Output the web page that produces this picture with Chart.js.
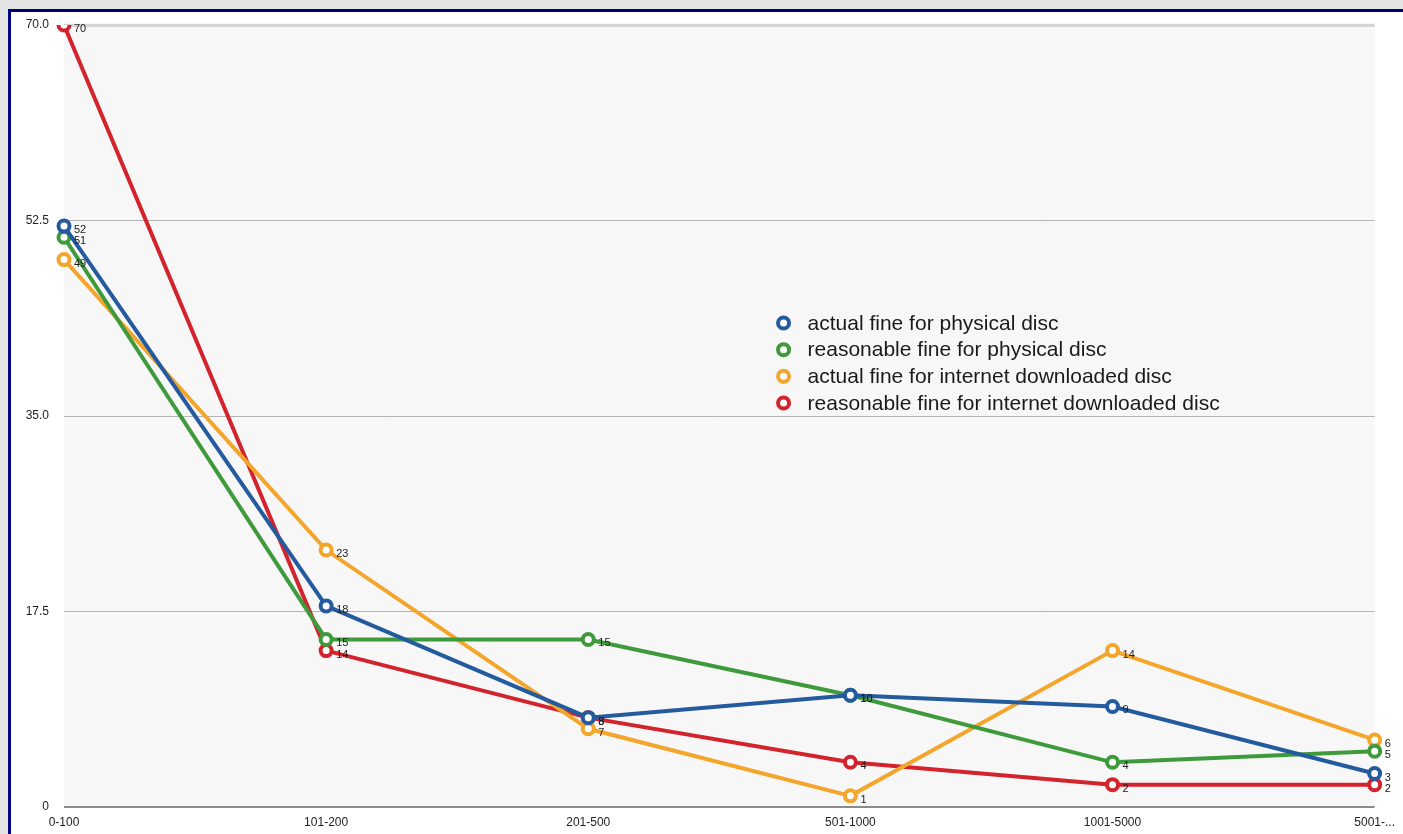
<!DOCTYPE html>
<html>
<head>
<meta charset="utf-8">
<script src="https://cdn.jsdelivr.net/npm/chart.js@4/dist/chart.umd.min.js"></script>
<style>
  html, body { margin: 0; padding: 0; overflow: hidden; background: #e4e4e4; }
  #frame {
    position: absolute; left: 8px; top: 9px; width: 1420px; height: 850px;
    border: 3px solid #00007f; background: #fff;
  }
  #myChart { position: absolute; left: 0; top: 0; }
</style>
</head>
<body>
<div id="frame"><canvas id="myChart" width="1392" height="822"></canvas></div>
<script>
'use strict';

// price ranges along the bottom
var ranges = ['0-100', '101-200', '201-500', '501-1000', '1001-5000', '5001-...'];
var yTickLabels = ['0', '17.5', '35.0', '52.5', '70.0'];

// one list per series
var actualPhysical = [52, 18, 8, 10, 9, 3];
var reasonablePhysical = [51, 15, 15, 10, 4, 5];
var actualDownload = [49, 23, 7, 1, 14, 6];
var reasonableDownload = [70, 14, 8, 4, 2, 2];

var seriesNames = [
  'actual fine for physical disc',
  'reasonable fine for physical disc',
  'actual fine for internet downloaded disc',
  'reasonable fine for internet downloaded disc'
];
var seriesColors = ['#245a9e', '#3f9a3c', '#f4a62c', '#d3232c'];
var seriesData = [actualPhysical, reasonablePhysical, actualDownload, reasonableDownload];

var FONT = '"Liberation Sans", Arial, Helvetica, sans-serif';

var datasets = [];
for (var i = 0; i < seriesData.length; i++) {
  datasets.push({
    label: seriesNames[i],
    data: seriesData[i],
    borderColor: seriesColors[i],
    backgroundColor: '#ffffff',
    pointBackgroundColor: '#ffffff',
    pointBorderColor: seriesColors[i],
    borderWidth: 4,
    pointRadius: 5.5,
    pointBorderWidth: 4,
    pointHoverRadius: 5.5,
    tension: 0,
    fill: false
  });
}

// light grey fill behind the plot
var plotBg = {
  id: 'plotBg',
  beforeDraw: function(chart) {
    var a = chart.chartArea;
    var ctx = chart.ctx;
    ctx.save();
    ctx.fillStyle = '#f7f7f7';
    ctx.fillRect(a.left, a.top - 2, a.right - a.left, a.bottom - a.top + 2);
    ctx.restore();
  }
};

// value written to the right of each point
var valueLabels = {
  id: 'valueLabels',
  afterDatasetsDraw: function(chart) {
    var ctx = chart.ctx;
    ctx.save();
    ctx.font = '11px ' + FONT;
    ctx.fillStyle = '#222';
    ctx.textAlign = 'left';
    ctx.textBaseline = 'middle';
    chart.data.datasets.forEach(function(ds, di) {
      var meta = chart.getDatasetMeta(di);
      meta.data.forEach(function(pt, j) {
        ctx.fillText(String(ds.data[j]), pt.x + 10, pt.y + 4);
      });
    });
    ctx.restore();
  }
};

// legend floating inside the plot
var innerLegend = {
  id: 'innerLegend',
  afterDraw: function(chart) {
    var a = chart.chartArea;
    var ctx = chart.ctx;
    var x = a.left + 0.549 * (a.right - a.left);
    var y = a.top + 0.381 * (a.bottom - a.top);
    ctx.save();
    ctx.font = '21px ' + FONT;
    ctx.textBaseline = 'middle';
    ctx.textAlign = 'left';
    chart.data.datasets.forEach(function(ds, i) {
      var cy = y + i * 26.7;
      ctx.beginPath();
      ctx.arc(x, cy, 5.5, 0, Math.PI * 2);
      ctx.fillStyle = '#fff';
      ctx.fill();
      ctx.lineWidth = 4;
      ctx.strokeStyle = ds.borderColor;
      ctx.stroke();
      ctx.fillStyle = '#1a1a1a';
      ctx.fillText(ds.label, x + 24, cy + 1);
    });
    ctx.restore();
  }
};

var ctx = document.getElementById('myChart').getContext('2d');
new Chart(ctx, {
  type: 'line',
  data: {
    labels: ranges,
    datasets: datasets
  },
  plugins: [plotBg, valueLabels, innerLegend],
  options: {
    responsive: false,
    animation: false,
    devicePixelRatio: 1,
    layout: { padding: { top: 13, right: 27, left: 0, bottom: 0 } },
    plugins: {
      legend: { display: false },
      tooltip: { enabled: false }
    },
    scales: {
      x: {
        offset: false,
        grid: { display: false, drawTicks: false },
        border: { display: false },
        ticks: {
          color: '#222',
          font: { family: FONT, size: 12 },
          padding: 8,
          maxRotation: 0,
          autoSkip: false
        },
        afterFit: function(scale) { scale.height = 27; }
      },
      y: {
        min: 0,
        max: 70,
        border: { display: false },
        grid: {
          drawTicks: false,
          color: function(c) {
            if (c.index === 0) return '#8a8a8a';
            if (c.index === yTickLabels.length - 1) return '#d4d4d4';
            return '#b4b4b4';
          },
          lineWidth: function(c) {
            if (c.index === 0) return 2;
            if (c.index === yTickLabels.length - 1) return 3;
            return 1;
          }
        },
        ticks: {
          stepSize: 17.5,
          color: '#222',
          font: { family: FONT, size: 12 },
          padding: 15,
          callback: function(value, index) { return yTickLabels[index]; }
        },
        afterFit: function(scale) {
          scale.width = 53;
          // tick padding should not push the plot down
          scale.paddingTop = 0;
          scale.paddingBottom = 0;
        }
      }
    }
  }
});
</script>
</body>
</html>
